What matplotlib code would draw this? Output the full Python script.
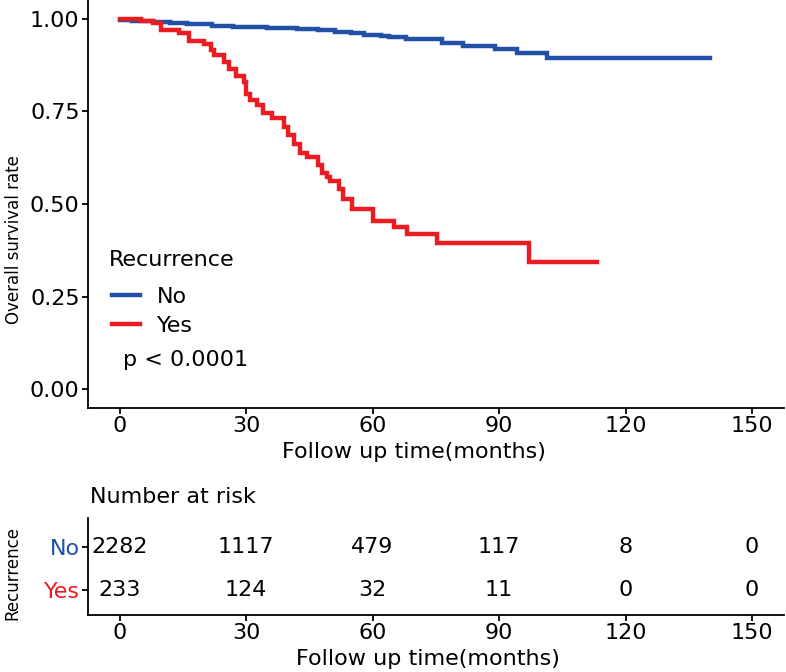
import numpy as np
import matplotlib
matplotlib.use("Agg")
import matplotlib.pyplot as plt

plt.rcParams['font.family'] = ['DejaVu Sans']

# ---- data ----
no_time = [0, 3, 8, 12, 16, 22, 27, 35, 42, 47, 51, 55, 58, 62, 64, 68, 76.5, 81.5, 89.1, 94.3, 101.4]
no_surv = [0.996, 0.993, 0.990, 0.987, 0.984, 0.981, 0.978, 0.975, 0.972, 0.968, 0.965, 0.960,
           0.956, 0.953, 0.950, 0.945, 0.934, 0.925, 0.917, 0.908, 0.894]
no_end = 140

yes_time = [0, 5.0, 7.8, 9.7, 14.0, 16.5, 20.0, 21.6, 22.3, 24.7, 25.9, 27.5, 29.4, 29.9, 31.0,
            32.7, 33.9, 36.2, 38.9, 40.0, 41.3, 42.9, 44.5, 47.1, 48.0, 49.2, 50.0, 52.1, 53.0,
            55.1, 60.1, 65.1, 68.2, 75.3, 97.1]
yes_surv = [1.0, 0.993, 0.988, 0.968, 0.961, 0.940, 0.932, 0.914, 0.901, 0.882, 0.865, 0.844,
            0.829, 0.797, 0.780, 0.766, 0.745, 0.731, 0.707, 0.685, 0.663, 0.637, 0.627, 0.605,
            0.583, 0.573, 0.562, 0.540, 0.513, 0.486, 0.454, 0.438, 0.419, 0.395, 0.344]
yes_end = 113.2

groups = ["No", "Yes"]
colors = ["#2150A6", "#EA1C22"]
risk_times = [0, 30, 60, 90, 120, 150]
risk_no = [2282, 1117, 479, 117, 8, 0]
risk_yes = [233, 124, 32, 11, 0, 0]
x_ticks = [0, 30, 60, 90, 120, 150]
y_ticks = [0.00, 0.25, 0.50, 0.75, 1.00]
y_ticklabels = ["0.00", "0.25", "0.50", "0.75", "1.00"]
pval_text = "p < 0.0001"

FS = 16
W, H = 786, 672
fig = plt.figure(figsize=(W / 100, H / 100), dpi=100)

L = 88 / W
R = 783.6 / W
ax = fig.add_axes([L, 1 - 408 / H, R - L, 408 / H])
axt = fig.add_axes([L, 1 - 615 / H, R - L, (615 - 518) / H])

for a in (ax, axt):
    for s in ("top", "right"):
        a.spines[s].set_visible(False)
    for s in ("left", "bottom"):
        a.spines[s].set_linewidth(1.3)
    a.tick_params(width=1.3, length=4.5, labelsize=FS, pad=1.5)

# survival curves
lw = 3.2
t_no = np.append(no_time, no_end)
s_no = np.append(no_surv, no_surv[-1])
t_yes = np.append(yes_time, yes_end)
s_yes = np.append(yes_surv, yes_surv[-1])
l1, = ax.step(t_no, s_no, where="post", color=colors[0], lw=lw, solid_joinstyle="miter")
l2, = ax.step(t_yes, s_yes, where="post", color=colors[1], lw=lw, solid_joinstyle="miter")

ax.set_xlim(-7.5, 157.5)
ax.set_ylim(-0.05, 1.05)
ax.set_xticks(x_ticks)
ax.set_yticks(y_ticks)
ax.set_yticklabels(y_ticklabels)

# legend: title drawn as text, entries via legend
ax.text(0.030, 1 - 260 / 408, "Recurrence", transform=ax.transAxes, fontsize=FS,
        va="center", ha="left")
leg = ax.legend([l1, l2], groups, loc="upper left",
                bbox_to_anchor=(0.0345, 1 - 287 / 408), frameon=False, borderpad=0,
                handlelength=1.28, handletextpad=0.75, labelspacing=0.39,
                fontsize=FS, borderaxespad=0)

ax.text(0.05, 1 - 360 / 408, pval_text, transform=ax.transAxes, fontsize=FS,
        va="center", ha="left")

fig.text(14 / W, 1 - 240 / H, "Overall survival rate", rotation=90, fontsize=12,
         va="center", ha="center")
fig.text(414 / W, 1 - 452 / H, "Follow up time(months)", fontsize=FS, va="center", ha="center")

# risk table
axt.set_xlim(-7.5, 157.5)
axt.set_ylim(0.42, 2.67)
axt.set_xticks(x_ticks)
axt.set_yticks([2, 1])
axt.set_yticklabels(groups)
for lab, c in zip(axt.get_yticklabels(), colors):
    lab.set_color(c)
for x, n in zip(risk_times, risk_no):
    axt.text(x, 2, str(n), ha="center", va="center", fontsize=FS)
for x, n in zip(risk_times, risk_yes):
    axt.text(x, 1, str(n), ha="center", va="center", fontsize=FS)

fig.text(90 / W, 1 - 497 / H, "Number at risk", fontsize=FS, va="center", ha="left")
fig.text(12 / W, 1 - 573 / H, "Recurrence", rotation=90, fontsize=12, va="center", ha="center")
fig.text(428 / W, 1 - 659 / H, "Follow up time(months)", fontsize=FS, va="center", ha="center")

fig.savefig("out.png", dpi=100)
